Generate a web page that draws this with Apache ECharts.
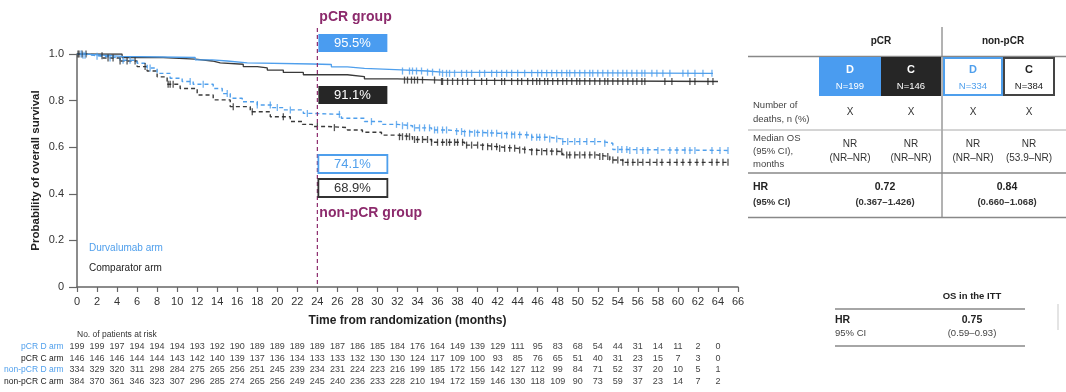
<!DOCTYPE html>
<html><head><meta charset="utf-8">
<script src="https://cdn.jsdelivr.net/npm/echarts@6/dist/echarts.min.js"></script>
<style>html,body{margin:0;padding:0;background:#fff}#c{width:1066px;height:392px}</style>
</head><body><div id="c"></div>
<script>
// ---------- DATA ----------
const xTicks = [0,2,4,6,8,10,12,14,16,18,20,22,24,26,28,30,32,34,36,38,40,42,44,46,48,50,52,54,56,58,60,62,64,66];
const yTicks = [0,0.2,0.4,0.6,0.8,1.0];

// KM step curves (time, survival)
const pcrD_t = [0,0.8,2.5,4.5,11.8,13.5,15,17,23.5,25.4,27,28.7,32.4,35,36.4,63.5];
const pcrD_s = [1.0,0.995,0.99,0.985,0.975,0.97,0.962,0.957,0.955,0.945,0.938,0.932,0.927,0.922,0.917,0.917];
const pcrC_t = [0,4.5,8.6,11.8,13.5,14.3,16.6,18,19,20.6,22.6,27,28.7,32,36.4,64];
const pcrC_s = [1.0,0.985,0.978,0.97,0.962,0.956,0.946,0.94,0.931,0.921,0.911,0.903,0.893,0.888,0.882,0.882];
const nonD_t = [0,0.6,1.5,2.6,4.3,6,7,8,9.3,10.5,11.6,13.6,14.5,15.3,16.5,18,19.5,20.6,22.6,23.5,26.4,28.7,30.4,32,33.5,35.4,37,38.7,42,45.4,47,48.5,52.5,53.5,55,65];
const nonD_s = [1,0.995,0.99,0.983,0.973,0.96,0.94,0.917,0.896,0.882,0.87,0.852,0.83,0.81,0.795,0.781,0.77,0.76,0.745,0.741,0.724,0.71,0.698,0.692,0.683,0.674,0.667,0.66,0.652,0.643,0.635,0.624,0.617,0.59,0.586,0.586];
const nonC_t = [0,1,2.6,4.3,6,7,8,9,10.3,12,13.6,15.3,17.3,19.3,21.3,22.5,23.5,25,27,28.5,30.4,32,33.5,35.4,38.7,40.5,42,44,45.4,48.5,51.9,53.2,54.5,65];
const nonC_s = [1,0.993,0.983,0.97,0.946,0.927,0.902,0.87,0.852,0.824,0.803,0.774,0.752,0.731,0.71,0.698,0.689,0.684,0.674,0.664,0.652,0.645,0.633,0.621,0.609,0.602,0.595,0.588,0.581,0.567,0.56,0.545,0.535,0.535];

// censoring times
const pcrD_cens = [0.4,0.8,32.5,33.2,33.5,33.9,34.4,35.0,35.5,36.2,36.5,36.9,37.2,37.7,38.4,38.9,39.4,40.2,40.7,41.4,41.9,42.4,42.9,43.4,44.0,44.7,45.4,46.0,46.4,46.9,47.4,47.9,48.4,48.9,49.2,49.7,50.2,50.7,51.2,51.5,52.0,52.5,53.0,53.5,54.0,54.5,54.9,55.4,55.9,56.4,56.7,57.4,57.9,58.5,59.2,60.5,61.0,61.7,62.5,63.4];
const pcrC_cens = [0.2,0.5,0.9,32.7,33.0,33.4,33.7,34.0,34.5,35.7,36.4,36.5,37.0,37.5,38.0,38.5,39.0,39.7,40.4,40.9,41.7,42.4,42.7,43.4,44.0,44.4,45.0,45.5,45.9,46.2,46.7,47.0,47.5,48.0,48.5,48.9,49.4,49.9,50.2,50.7,51.2,51.7,52.2,52.7,53.0,53.5,54.0,54.5,55.0,55.5,55.9,56.4,56.7,58.7,59.4,61.2,61.7,63.0,63.5];
const nonD_cens = [0.6,2.0,3.3,4.6,5.3,7.3,11.3,12.6,15.0,18.0,19.3,20.0,21.3,23.0,26.2,29.4,31.9,32.5,33.0,33.7,34.2,34.7,35.2,35.7,36.0,36.5,36.9,37.9,38.4,38.7,39.2,39.7,40.0,40.5,41.0,41.4,41.9,42.4,42.9,43.4,43.7,44.2,44.9,45.4,45.9,46.2,46.7,47.2,47.9,48.5,49.0,49.7,50.2,50.9,51.7,52.7,54.0,54.4,54.9,55.2,55.9,56.5,57.0,58.0,59.2,59.9,60.7,61.2,61.7,63.4,64.2,65.0];
const nonC_cens = [0.1,2.5,3.1,3.6,4.3,5.0,5.8,6.8,9.1,9.3,9.6,15.6,17.5,20.6,24.0,25.7,32.2,32.5,32.9,33.2,33.7,34.0,34.5,35.0,35.4,36.0,36.5,36.9,37.2,37.7,38.0,38.5,38.9,39.4,40.0,40.5,41.0,41.4,41.9,42.2,42.7,43.2,43.7,44.2,44.7,45.4,45.9,46.4,46.9,47.4,47.9,48.4,48.9,49.2,49.7,50.2,50.7,51.2,51.7,52.2,52.5,53.0,53.5,54.0,54.5,55.0,55.5,56.0,56.5,57.2,57.9,58.4,59.2,59.9,60.5,61.2,61.9,62.5,63.4,63.9,64.5,65.0];

// number at risk (months 0..64 step 2)
const riskLabels = ['pCR D arm','pCR C arm','non-pCR D arm','non-pCR C arm'];
const risk_pcrD = [199,199,197,194,194,194,193,192,190,189,189,189,189,187,186,185,184,176,164,149,139,129,111,95,83,68,54,44,31,14,11,2,0];
const risk_pcrC = [146,146,146,144,144,143,142,140,139,137,136,134,133,133,132,130,130,124,117,109,100,93,85,76,65,51,40,31,23,15,7,3,0];
const risk_nonD = [334,329,320,311,298,284,275,265,256,251,245,239,234,231,224,223,216,199,185,172,156,142,127,112,99,84,71,52,37,20,10,5,1];
const risk_nonC = [384,370,361,346,323,307,296,285,274,265,256,249,245,240,236,233,228,210,194,172,159,146,130,118,109,90,73,59,37,23,14,7,2];

// landmark annotations at 24 months
const landmarkMonth = 24;
const landmarkPct = ['95.5%','91.1%','74.1%','68.9%'];

// right-hand table
const tblGroups = ['pCR','non-pCR'];
const tblArms = ['D','C','D','C'];
const tblN = ['N=199','N=146','N=334','N=384'];
const tblDeaths = ['X','X','X','X'];
const tblMedian = ['NR','NR','NR','NR'];
const tblMedianCI = ['(NR–NR)','(NR–NR)','(NR–NR)','(53.9–NR)'];
const tblHR = ['0.72','0.84'];
const tblHRCI = ['(0.367–1.426)','(0.660–1.068)'];
const ittHR = '0.75';
const ittCI = '(0.59–0.93)';

// ---------- RENDER ----------
const BLUE = '#4f9fec', BLUEF = '#4a9cf0', DARK = '#333333', PURPLE = '#8c2a6c';
const FONT = "'Liberation Sans', Arial, sans-serif";
const NARROW = "'Liberation Sans Narrow', 'Liberation Sans', Arial, sans-serif";

function surv(ts, ss, t){ let v = ss[0]; for(let i=0;i<ts.length;i++){ if(ts[i] <= t) v = ss[i]; else break; } return v; }
function curve(ts, ss){ return ts.map((t,i)=>[t, ss[i]]); }
function cens(ts, ss, cs){ return cs.map(c=>[c, surv(ts, ss, c)]); }

const chart = echarts.init(document.getElementById('c'), null, {renderer:'canvas'});

const gridL = 77, gridT = 54, gridW = 661, gridH = 233;
const riskArrays = [risk_pcrD, risk_pcrC, risk_nonD, risk_nonC];
const riskColors = [BLUE, '#222', BLUE, '#222'];
const riskOffsets = [60, 71.5, 83, 94.5];

const xAxes = [{
  type:'value', min:0, max:66, interval:2,
  axisLine:{lineStyle:{color:'#666', width:1.5}},
  axisTick:{length:5, lineStyle:{color:'#666', width:1.2}},
  axisLabel:{fontSize:11, color:'#333', margin:9, fontFamily:FONT},
  splitLine:{show:false},
  name:'Time from randomization (months)', nameLocation:'middle', nameGap:28,
  nameTextStyle:{fontSize:12, fontWeight:'bold', color:'#222', fontFamily:FONT}
}];
riskArrays.forEach((arr, k)=>{
  xAxes.push({
    type:'value', min:0, max:66, interval:2, position:'bottom', offset:riskOffsets[k],
    axisLine:{show:false}, axisTick:{show:false}, splitLine:{show:false},
    axisLabel:{margin:0, verticalAlign:'middle', fontSize:9, color:'#444', fontFamily:NARROW,
      formatter:(v)=>{ const i = Math.round(v/2); return (i < arr.length) ? String(arr[i]) : ''; }},
    name:riskLabels[k], nameLocation:'start', nameGap:8,
    nameTextStyle:{fontSize:8.5, color:riskColors[k], align:'right', verticalAlign:'middle', fontFamily:NARROW}
  });
});

const lineCommon = {type:'line', step:'end', showSymbol:false, symbol:'none', animation:false, xAxisIndex:0, yAxisIndex:0, z:3};
const censCommon = {type:'scatter', symbol:'rect', symbolSize:[1.3,7], animation:false, xAxisIndex:0, yAxisIndex:0, z:4};

const option = {
  animation:false,
  textStyle:{fontFamily:FONT},
  grid:{left:gridL, top:gridT, width:gridW, height:gridH, containLabel:false, outerBoundsMode:'none'},
  xAxis:xAxes,
  yAxis:{type:'value', min:0, max:1, interval:0.2,
    axisLine:{show:true, lineStyle:{color:'#666', width:1.5}},
    axisTick:{show:true, length:8, lineStyle:{color:'#666', width:1.2}},
    axisLabel:{fontSize:11, color:'#333', margin:13, fontFamily:FONT, formatter:v=> v===0 ? '0' : v.toFixed(1)},
    splitLine:{show:false}
  },
  series:[
    Object.assign({}, lineCommon, {name:'nonC', data:curve(nonC_t,nonC_s), lineStyle:{color:'#3a3a3a', width:1.4, type:[4,3]}}),
    Object.assign({}, lineCommon, {name:'nonD', data:curve(nonD_t,nonD_s), lineStyle:{color:BLUE, width:1.4, type:[4,3]}}),
    Object.assign({}, lineCommon, {name:'pcrC', data:curve(pcrC_t,pcrC_s), lineStyle:{color:'#3a3a3a', width:1.3}}),
    Object.assign({}, lineCommon, {name:'pcrD', data:curve(pcrD_t,pcrD_s), lineStyle:{color:BLUE, width:1.3}}),
    Object.assign({}, censCommon, {data:cens(nonC_t,nonC_s,nonC_cens), itemStyle:{color:'#2a2a2a'}}),
    Object.assign({}, censCommon, {data:cens(nonD_t,nonD_s,nonD_cens), itemStyle:{color:BLUE}}),
    Object.assign({}, censCommon, {data:cens(pcrC_t,pcrC_s,pcrC_cens), itemStyle:{color:'#2a2a2a'}}),
    Object.assign({}, censCommon, {data:cens(pcrD_t,pcrD_s,pcrD_cens), itemStyle:{color:BLUE}})
  ]
};
chart.setOption(option);

// ---------- annotations & tables ----------
function T(text, x, y, o){ o = o||{}; return {type:'text', z:10, style:{text:text, x:x, y:y, fill:o.fill||'#333', fontSize:o.size||10, fontWeight:o.bold?'bold':'normal', fontFamily:o.font||FONT, align:o.align||'center', verticalAlign:'middle'}}; }
function R(x,y,w,h,o){ return {type:'rect', z:9, shape:{x:x,y:y,width:w,height:h}, style:{fill:o.fill||'none', stroke:o.stroke||null, lineWidth:o.lw||0}}; }
function L(x1,y1,x2,y2,o){ return {type:'line', z:9, shape:{x1:x1,y1:y1,x2:x2,y2:y2}, style:{stroke:o.stroke||'#777', lineWidth:o.lw||1, lineDash:o.dash||null}}; }

const g = [];
// y-axis title
g.push({type:'text', z:10, x:36, y:gridT + gridH/2, rotation:Math.PI/2,
  style:{text:'Probability of overall survival', x:0, y:0, fill:'#222', fontSize:11.5, fontWeight:'bold', fontFamily:FONT, align:'center', verticalAlign:'middle'}});

const x24 = chart.convertToPixel({xAxisIndex:0}, landmarkMonth);
const yBottom = chart.convertToPixel({yAxisIndex:0}, 0);
g.push(L(x24, 28, x24, yBottom, {stroke:PURPLE, lw:1.2, dash:[4,3]}));
g.push(T('pCR group', x24+2, 17, {fill:PURPLE, size:14, bold:true, align:'left'}));
g.push(T('non-pCR group', x24+2, 213, {fill:PURPLE, size:14, bold:true, align:'left'}));
const boxY = [34, 86, 155, 179];
const boxStyle = [{fill:BLUEF, tf:'#fff'}, {fill:'#262626', tf:'#fff'}, {fill:'#fff', stroke:BLUE, tf:BLUE}, {fill:'#fff', stroke:'#333', tf:'#333'}];
landmarkPct.forEach((p,i)=>{
  const s = boxStyle[i];
  g.push(R(x24+1, boxY[i], 69, 18, {fill:s.fill, stroke:s.stroke, lw:s.stroke?1.8:0}));
  g.push(T(p, x24+35, boxY[i]+9.5, {fill:s.tf, size:13}));
});
// legend-like labels
g.push(T('Durvalumab arm', 89, 248, {fill:BLUE, size:10, align:'left', font:NARROW}));
g.push(T('Comparator arm', 89, 268, {fill:'#222', size:10, align:'left', font:NARROW}));
g.push(T('No. of patients at risk', 77, 335, {fill:'#333', size:8.5, align:'left', font:NARROW}));

// right table
const colC = [850, 911, 973, 1029];
const boxL = [819, 881, 943, 1003], boxW = [62, 60, 60, 52];
const grpC = [881, 1003];
tblGroups.forEach((t,i)=> g.push(T(t, grpC[i], 41, {size:10, bold:true, fill:'#222'})));
g.push(L(942, 27, 942, 218, {stroke:'#666', lw:1}));
g.push(L(748, 56.5, 1066, 56.5, {stroke:'#888', lw:1.5}));
const armStyle = [{fill:BLUEF, tf:'#fff'}, {fill:'#262626', tf:'#fff'}, {fill:'#fff', stroke:BLUE, tf:BLUE}, {fill:'#fff', stroke:'#444', tf:'#222'}];
tblArms.forEach((a,i)=>{
  const s = armStyle[i];
  g.push(R(boxL[i]+(s.stroke?1:0), 57+(s.stroke?1:0), boxW[i]-(s.stroke?2:0), 39-(s.stroke?2:0), {fill:s.fill, stroke:s.stroke, lw:s.stroke?2:0}));
  g.push(T(a, colC[i], 70, {fill:s.tf, size:11, bold:true}));
  g.push(T(tblN[i], colC[i], 86, {fill:s.tf, size:9.5, font:NARROW}));
});
g.push(T('Number of', 753, 105, {size:9.5, align:'left', fill:'#444'}));
g.push(T('deaths, n (%)', 753, 119, {size:9.5, align:'left', fill:'#444'}));
tblDeaths.forEach((d,i)=> g.push(T(d, colC[i], 112, {size:10, fill:'#333'})));
g.push(L(748, 130, 1066, 130, {stroke:'#aaa', lw:1}));
g.push(T('Median OS', 753, 138, {size:9.5, align:'left', fill:'#444'}));
g.push(T('(95% CI),', 753, 151, {size:9.5, align:'left', fill:'#444'}));
g.push(T('months', 753, 164, {size:9.5, align:'left', fill:'#444'}));
tblMedian.forEach((d,i)=>{ g.push(T(d, colC[i], 144, {size:10, fill:'#333'})); g.push(T(tblMedianCI[i], colC[i], 158, {size:10, fill:'#333'})); });
g.push(L(748, 173, 1066, 173, {stroke:'#888', lw:1.5}));
g.push(T('HR', 753, 187, {size:10.5, bold:true, align:'left', fill:'#222'}));
g.push(T('(95% CI)', 753, 202, {size:9.5, bold:true, align:'left', fill:'#333'}));
tblHR.forEach((h,i)=>{ g.push(T(h, grpC[i]+4, 187, {size:10.5, bold:true, fill:'#222'})); g.push(T(tblHRCI[i], grpC[i]+4, 202, {size:9.5, bold:true, fill:'#333'})); });
g.push(L(748, 217.5, 1066, 217.5, {stroke:'#888', lw:1.5}));

// ITT table
g.push(T('OS in the ITT', 972, 296, {size:9.5, bold:true, fill:'#222'}));
g.push(L(835, 309, 1025, 309, {stroke:'#888', lw:1.5}));
g.push(T('HR', 835, 320, {size:10.5, bold:true, align:'left', fill:'#222'}));
g.push(T('95% CI', 835, 333, {size:9.5, align:'left', fill:'#444'}));
g.push(T(ittHR, 972, 320, {size:10.5, bold:true, fill:'#222'}));
g.push(T(ittCI, 972, 333, {size:9.5, fill:'#444'}));
g.push(L(835, 346, 1025, 346, {stroke:'#888', lw:1.5}));
g.push(L(1058, 304, 1058, 330, {stroke:'#e4e4e4', lw:2}));

chart.setOption({graphic:{elements:g}});
</script>
</body></html>
